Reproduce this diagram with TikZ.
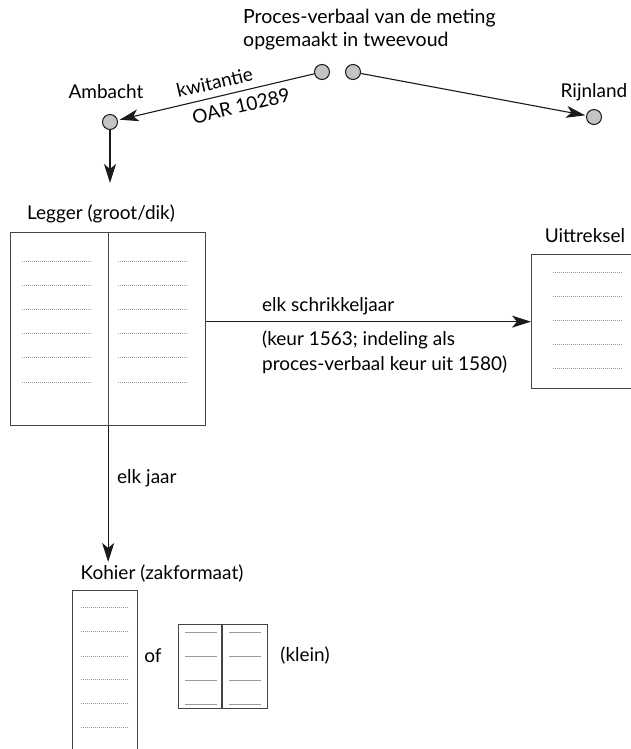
\documentclass[tikz,border=0pt]{standalone}
\usepackage{fontspec}
\setmainfont{Lato}
\usetikzlibrary{arrows.meta,calc}
\definecolor{boxc}{HTML}{444444}
\definecolor{arrc}{HTML}{1A1A1A}
\definecolor{dotfill}{HTML}{C4C4C8}
\definecolor{dashc}{HTML}{9A9A9A}
\tikzset{
  lbl/.style={inner sep=0pt, font=\fontsize{19}{24}\selectfont, text=black},
  dotnode/.style={circle, draw=arrc, line width=1pt, fill=dotfill, minimum size=15pt, inner sep=0pt},
  arr/.style={draw=arrc, line width=1.1pt, -{Stealth[length=19pt,width=12pt,inset=5pt]}},
  book/.style={draw=boxc, line width=1.3pt, inner sep=0pt, anchor=north west},
  rule/.style={draw=dashc, line width=0.7pt, dash pattern=on 1.4pt off 0.6pt},
  srule/.style={draw=dashc, line width=1pt}
}
\begin{document}
\begin{tikzpicture}[x=1pt,y=-1pt]
\useasboundingbox (0,0) rectangle (631,749);
% title
\node[lbl, align=left, anchor=north west, font=\fontsize{19.5}{23}\selectfont] (title) at (243,9) {Proces-verbaal van de meting\\opgemaakt in tweevoud};
% dots
\node[dotnode] (c1) at (322,72) {};
\node[dotnode] (c2) at (353,72) {};
\node[dotnode] (amb) at (110,122) {};
\node[dotnode] (rijn) at (594,117) {};
\node[lbl] (ambt) at (106,92) {Ambacht};
\node[lbl] (rijnt) at (594,92) {Rijnland};
\draw[arr, shorten >=2pt] (c1) -- (amb)
  node[lbl, pos=0.49, sloped, above=7pt] (kw) {kwitantie}
  node[lbl, pos=0.39, sloped, below=7pt] (oar) {OAR 10289};
\draw[arr, shorten >=1pt] (c2) -- (rijn);
\coordinate (ambend) at (110,183);
\draw[arr] (amb) -- (ambend);
% Legger
\node[lbl] (legt) at (101,214) {Legger (groot/dik)};
\node[book, minimum width=195pt, minimum height=193pt] (legger) at (10,232) {};
\draw[draw=boxc, line width=1.3pt] ($(legger.north west)!0.5!(legger.north east)$) coordinate (ldt) -- (ldt |- legger.south) coordinate (ldb);
\foreach \y in {261,285,309,333,357,382} {
  \draw[rule] (22,\y) -- (92,\y);
  \draw[rule] (118,\y) -- (188,\y);
}
% Uittreksel
\node[lbl] (uitt) at (585,236) {Uittreksel};
\node[book, minimum width=120pt, minimum height=134pt] (uit) at (531,254) {};
\foreach \y in {272,296,320,344,368} {
  \draw[rule] (553,\y) -- (622,\y);
}
\draw[arr] (legger.east |- uit.west) -- (uit.west);
\node[lbl, anchor=west] (sch) at (262,306) {elk schrikkeljaar};
\node[lbl, anchor=north west, align=left, font=\fontsize{19}{25}\selectfont] (keur) at (262,331) {(keur 1563; indeling als\\proces-verbaal keur uit 1580)};
% Kohier
\coordinate (kohend) at (ldb |- 0,562);
\draw[arr] (ldb) -- (kohend);
\node[lbl, anchor=west] (jaar) at (117,478) {elk jaar};
\node[lbl] (koht) at (162,574) {Kohier (zakformaat)};
\node[book, minimum width=65pt, minimum height=180pt] (koh) at (72,590) {};
\foreach \y in {607,631,656,679,703,727} {
  \draw[rule] (81,\y) -- (129,\y);
}
\node[lbl] (of) at (153,656) {of};
\node[book, minimum width=89pt, minimum height=84pt] (klein) at (178,624) {};
\draw[draw=boxc, line width=1.3pt] (222,624) -- (222,708);
\foreach \y in {632,656,680,704} {
  \draw[srule] (185,\y) -- (217,\y);
  \draw[srule] (229,\y) -- (261,\y);
}
\node[lbl] (kleint) at (305,656) {(klein)};
\end{tikzpicture}
\end{document}
